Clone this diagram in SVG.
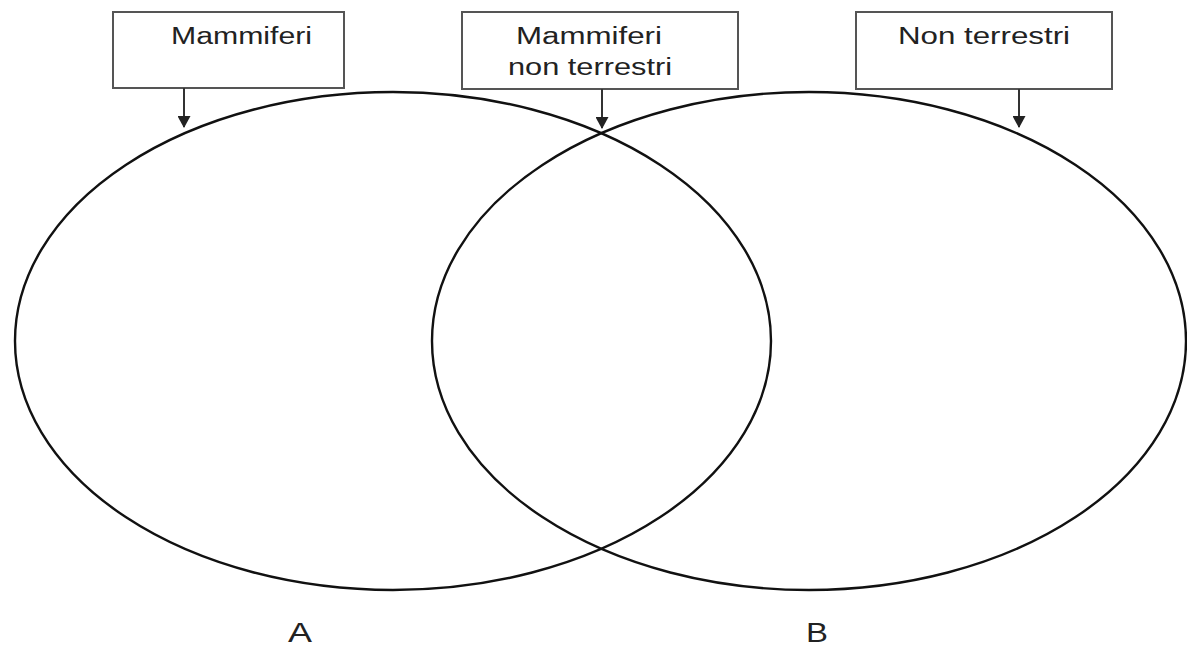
<svg xmlns="http://www.w3.org/2000/svg" width="1187" height="648" viewBox="0 0 1187 648">
<style>
.box{fill:#fff;stroke:#555;stroke-width:2}
.lbl{font-family:"Liberation Sans",Arial,sans-serif;font-size:23px;fill:#222}
.big{font-family:"Liberation Sans",Arial,sans-serif;font-size:27px;fill:#222}
.ell{fill:none;stroke:#111;stroke-width:2.4}
.arr{stroke:#333;stroke-width:2;fill:none}
</style>
<defs>
<marker id="ah" markerWidth="12" markerHeight="13" refX="11" refY="6.5" orient="auto" markerUnits="userSpaceOnUse">
<path d="M0,0 L12,6.5 L0,13 Z" fill="#222"/>
</marker>
</defs>
<rect width="1187" height="648" fill="#fff"/>
<g id="setA"><ellipse class="ell" cx="393" cy="341" rx="378" ry="249"/></g>
<g id="setB"><ellipse class="ell" cx="809" cy="341" rx="377" ry="249"/></g>
<g id="box-mammiferi">
<rect class="box" x="113" y="12" width="231" height="76"/>
<text class="lbl" x="171" y="44" textLength="141" lengthAdjust="spacingAndGlyphs">Mammiferi</text>
</g>
<g id="box-mammiferi-non-terrestri">
<rect class="box" x="462" y="12" width="276" height="77"/>
<text class="lbl" x="516" y="44" textLength="146" lengthAdjust="spacingAndGlyphs">Mammiferi</text>
<text class="lbl" x="508" y="75" textLength="164" lengthAdjust="spacingAndGlyphs">non terrestri</text>
</g>
<g id="box-non-terrestri">
<rect class="box" x="856" y="12" width="256" height="77"/>
<text class="lbl" x="898" y="44" textLength="172" lengthAdjust="spacingAndGlyphs">Non terrestri</text>
</g>
<g id="connectors">
<line class="arr" x1="184" y1="88" x2="184" y2="127" marker-end="url(#ah)"/>
<line class="arr" x1="602" y1="89" x2="602" y2="128" marker-end="url(#ah)"/>
<line class="arr" x1="1019" y1="89" x2="1019" y2="127" marker-end="url(#ah)"/>
</g>
<g id="label-A"><text class="big" x="288" y="642" textLength="24" lengthAdjust="spacingAndGlyphs">A</text></g>
<g id="label-B"><text class="big" x="806" y="642" textLength="22" lengthAdjust="spacingAndGlyphs">B</text></g>
</svg>
